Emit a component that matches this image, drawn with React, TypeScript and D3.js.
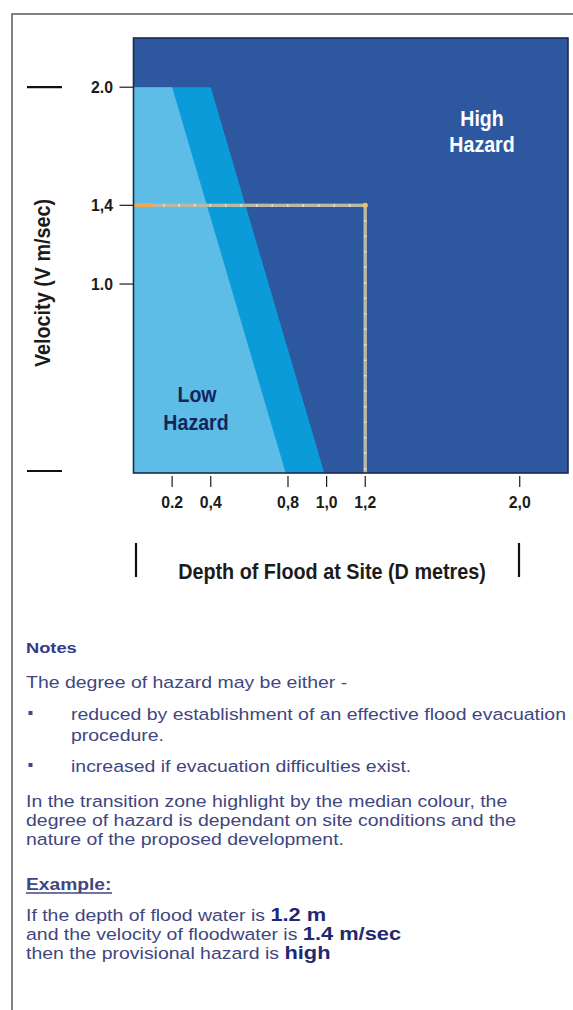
import React from 'react';
import * as d3 from 'd3';

// ---- data ----
const depthDomain: [number, number] = [0, 2.25];
const velocityDomain: [number, number] = [0.04, 2.25];
const depthTicks = [0.2, 0.4, 0.8, 1.0, 1.2, 2.0];
const depthTickLabels = ['0.2', '0,4', '0,8', '1,0', '1,2', '2,0'];
const velocityTicks = [2.0, 1.4, 1.0];
const velocityTickLabels = ['2.0', '1,4', '1.0'];
const zoneTop = 2.0;
const lowBoundary: [number, number][] = [[0.2, 2.0], [0.8, 0.0]];
const transitionBoundary: [number, number][] = [[0.4, 2.0], [1.0, 0.0]];
const exampleDepth = 1.2;
const exampleVelocity = 1.4;

const xTitle = 'Depth of Flood at Site (D metres)';
const yTitle = 'Velocity (V m/sec)';
const highLabel = ['High', 'Hazard'];
const lowLabel = ['Low', 'Hazard'];

type Part = { t: string; b?: boolean };
const noteLines: Part[][] = [
  [{ t: 'Notes', b: true }],
  [{ t: 'The degree of hazard may be either -' }],
  [{ t: 'reduced by establishment of an effective flood evacuation' }],
  [{ t: 'procedure.' }],
  [{ t: 'increased if evacuation difficulties exist.' }],
  [{ t: 'In the transition zone highlight by the median colour, the' }],
  [{ t: 'degree of hazard is dependant on site conditions and the' }],
  [{ t: 'nature of the proposed development.' }],
  [{ t: 'Example:', b: true }],
  [{ t: 'If the depth of flood water is ' }, { t: '1.2 m', b: true }],
  [{ t: 'and the velocity of floodwater is ' }, { t: '1.4 m/sec', b: true }],
  [{ t: 'then the provisional hazard is ' }, { t: 'high', b: true }],
];

// ---- layout ----
const W = 573;
const H = 1010;
const plot = { left: 133.5, right: 568, top: 38, bottom: 473 };
const noteLayout = [
  { x: 26, y: 653, size: 15.5 },
  { x: 26, y: 688, size: 16.5 },
  { x: 71, y: 720, size: 16.5 },
  { x: 71, y: 741, size: 16.5 },
  { x: 71, y: 772, size: 16.5 },
  { x: 26, y: 807, size: 16.5 },
  { x: 26, y: 826, size: 16.5 },
  { x: 26, y: 845, size: 16.5 },
  { x: 26, y: 890, size: 16.3 },
  { x: 26, y: 921, size: 16.5 },
  { x: 26, y: 940, size: 16.5 },
  { x: 26, y: 959, size: 16.5 },
];
const bulletRows = [2, 4];
const STRETCH = 1.18;
const CONDENSE = 0.89;

const C = {
  high: '#2d58a0',
  mid: '#0a9bd8',
  low: '#5dbde6',
  frame: '#5a5a5a',
  ink: '#1b1b1b',
  noteText: '#3f4680',
  noteHead: '#333a8c',
  noteBold: '#1f2870',
};

function CText(props: {
  x: number;
  y: number;
  s: number;
  size: number;
  fill: string;
  anchor?: string;
  rotate?: number;
  children: React.ReactNode;
}) {
  const { x, y, s, size, fill, anchor = 'middle', rotate = 0, children } = props;
  return (
    <text
      transform={`translate(${x},${y})${rotate ? ` rotate(${rotate})` : ''} scale(${s},1)`}
      textAnchor={anchor}
      fontWeight="bold"
      fontSize={size}
      fill={fill}
    >
      {children}
    </text>
  );
}

export default function App() {
  const x = d3.scaleLinear().domain(depthDomain).range([plot.left, plot.right]);
  const y = d3.scaleLinear().domain(velocityDomain).range([plot.bottom, plot.top]);
  const line = d3
    .line<[number, number]>()
    .x((d) => x(d[0]))
    .y((d) => y(d[1]));

  const lowPoly: [number, number][] = [[0, 0], [0, zoneTop], ...lowBoundary];
  const midPoly: [number, number][] = [[0, 0], [0, zoneTop], ...transitionBoundary];

  const font = "'Liberation Sans', Arial, Helvetica, sans-serif";
  const ex = x(exampleDepth);
  const ey = y(exampleVelocity);
  const exPath = `M${x(0)},${ey} L${ex},${ey} L${ex},${plot.bottom}`;

  return (
    <svg
      width={W}
      height={H}
      viewBox={`0 0 ${W} ${H}`}
      style={{ position: 'absolute', left: 0, top: 0, background: '#fff' }}
      fontFamily={font}
    >
      <defs>
        <clipPath id="plotClip">
          <rect x={plot.left} y={plot.top} width={plot.right - plot.left} height={plot.bottom - plot.top} />
        </clipPath>
      </defs>

      {/* outer frame */}
      <path d={`M12,${H} L12,14 L${W},14`} fill="none" stroke={C.frame} strokeWidth={1.5} />

      {/* plot */}
      <rect x={plot.left} y={plot.top} width={plot.right - plot.left} height={plot.bottom - plot.top} fill={C.high} />
      <g clipPath="url(#plotClip)">
        <path d={line(midPoly)! + 'Z'} fill={C.mid} />
        <path d={line(lowPoly)! + 'Z'} fill={C.low} />
      </g>

      {/* example lines */}
      <g fill="none" strokeLinecap="butt">
        <path d={exPath} stroke="#e9e0b6" strokeWidth={3.2} />
        <path d={exPath} stroke="#5f6c8a" strokeWidth={3.2} strokeDasharray="14,1.5" strokeOpacity={0.35} />
        <path d={`M${x(0)},${ey} L${x(0.1)},${ey}`} stroke="#f0a850" strokeWidth={3.2} />
        <circle cx={ex} cy={ey} r={2.6} fill="#f3c060" stroke="none" />
      </g>

      <rect x={plot.left} y={plot.top} width={plot.right - plot.left} height={plot.bottom - plot.top} fill="none" stroke="#1d2a48" strokeWidth={1.6} />

      {/* zone labels */}
      <CText x={482} y={126} s={CONDENSE} size={22} fill="#ffffff">{highLabel[0]}</CText>
      <CText x={482} y={152} s={CONDENSE} size={22} fill="#ffffff">{highLabel[1]}</CText>
      <CText x={197} y={402} s={CONDENSE} size={22} fill="#13265a">{lowLabel[0]}</CText>
      <CText x={196} y={430} s={CONDENSE} size={22} fill="#13265a">{lowLabel[1]}</CText>

      {/* y axis ticks */}
      {velocityTicks.map((v, i) => (
        <g key={v}>
          <line x1={plot.left - 14} x2={plot.left} y1={y(v)} y2={y(v)} stroke={C.ink} strokeWidth={1.2} />
          <CText x={113} y={y(v) + 6} s={0.93} size={17} fill={C.ink} anchor="end">{velocityTickLabels[i]}</CText>
        </g>
      ))}

      {/* x axis ticks */}
      {depthTicks.map((d, i) => (
        <g key={d}>
          <line x1={x(d)} x2={x(d)} y1={plot.bottom + 3} y2={plot.bottom + 14} stroke={C.ink} strokeWidth={1.2} />
          <CText x={x(d)} y={508} s={0.93} size={17} fill={C.ink}>{depthTickLabels[i]}</CText>
        </g>
      ))}

      {/* decorative marks */}
      <g stroke="#111" strokeWidth={2.2}>
        <line x1={27} x2={62} y1={y(2.0)} y2={y(2.0)} />
        <line x1={27} x2={62} y1={471} y2={471} />
        <line x1={136} x2={136} y1={543} y2={577} />
        <line x1={519} x2={519} y1={543} y2={577} />
      </g>

      {/* axis titles */}
      <CText x={332} y={579} s={0.9} size={22} fill={C.ink}>{xTitle}</CText>
      <CText x={50} y={283} s={0.9} size={22} fill={C.ink} rotate={-90}>{yTitle}</CText>

      {/* notes */}
      {bulletRows.map((r) => (
        <rect key={r} x={28.5} y={noteLayout[r].y - 9} width={4} height={4} fill={C.noteText} />
      ))}
      {noteLines.map((parts, i) => {
        const L = noteLayout[i];
        const head = i === 0;
        return (
          <text
            key={i}
            transform={`translate(${L.x},${L.y}) scale(${STRETCH},1)`}
            fontSize={L.size}
            fill={head ? C.noteHead : C.noteText}
            fontWeight={head || i === 8 ? 'bold' : 'normal'}
          >
            {parts.map((p, j) => (
              <tspan
                key={j}
                fontWeight={p.b ? 'bold' : undefined}
                fontSize={p.b && i > 8 ? 18.5 : undefined}
                fill={p.b && i > 8 ? C.noteBold : undefined}
              >
                {p.t}
              </tspan>
            ))}
          </text>
        );
      })}
      <line x1={26} x2={112} y1={893} y2={893} stroke={C.noteText} strokeWidth={1.3} />
    </svg>
  );
}
